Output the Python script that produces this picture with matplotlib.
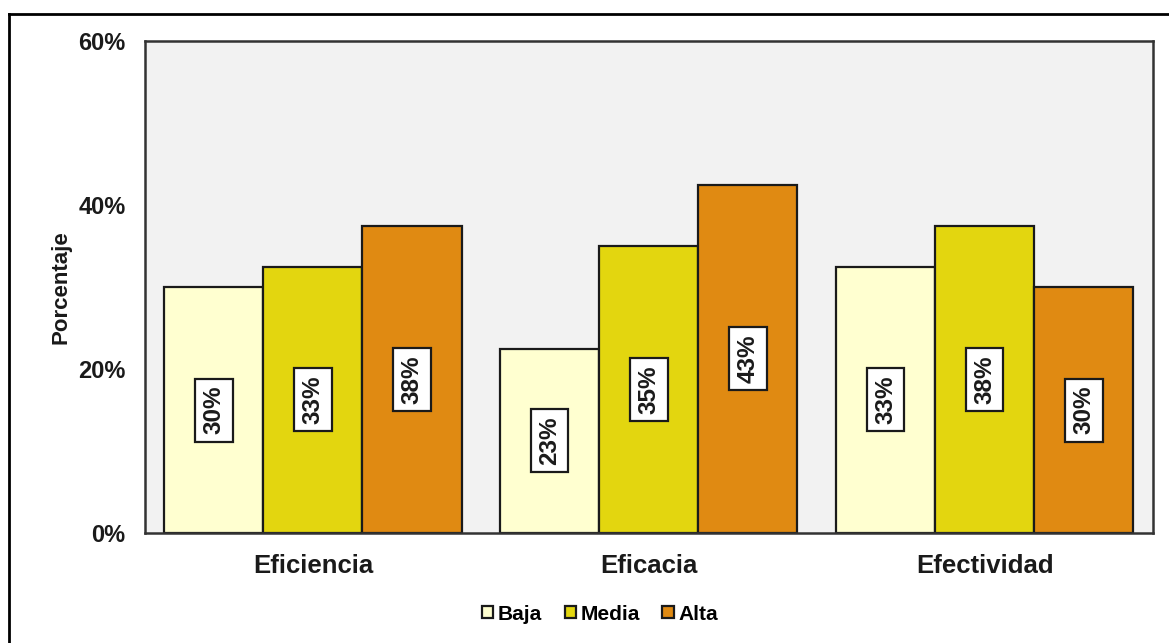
import numpy as np
import matplotlib.pyplot as plt
from matplotlib.lines import Line2D
from decimal import Decimal, ROUND_HALF_UP

plt.rcParams['font.family'] = ['Liberation Sans', 'DejaVu Sans']
plt.rcParams['font.weight'] = 'bold'

categorias = ['Eficiencia', 'Eficacia', 'Efectividad']
niveles = ['Baja', 'Media', 'Alta']
baja = [30.0, 22.5, 32.5]
media = [32.5, 35.0, 37.5]
alta = [37.5, 42.5, 30.0]
colores = ['#FFFFD0', '#E3D60F', '#E08A12']


def etiqueta(v):
    return str(Decimal(str(v)).quantize(Decimal('1'), rounding=ROUND_HALF_UP)) + '%'


fig = plt.figure(figsize=(11.69, 6.43), dpi=100)
ax = fig.add_axes([0.124, 0.171, 0.862, 0.765])
ax.set_facecolor('#F2F2F2')

x = np.arange(len(categorias))
ancho = 0.295
for i, (serie, nombre) in enumerate(zip([baja, media, alta], niveles)):
    pos = x + (i - 1) * ancho
    barras = ax.bar(pos, serie, ancho, color=colores[i], edgecolor='#1a1a1a',
                    linewidth=1.6, label=nombre, zorder=2)
    for b, v in zip(barras, serie):
        ax.text(b.get_x() + b.get_width() / 2, v / 2, etiqueta(v),
                rotation=90, ha='center', va='center', fontsize=17.5,
                fontweight='bold', color='#1a1a1a',
                bbox=dict(boxstyle='square,pad=0.3', fc='white',
                          ec='#1a1a1a', lw=1.6), zorder=3)

ax.set_xlim(-0.5, 2.5)
ax.set_ylim(0, 60)
ax.set_yticks([0, 20, 40, 60])
ax.set_yticklabels(['0%', '20%', '40%', '60%'])
ax.set_xticks(x)
ax.set_xticklabels(categorias)
ax.tick_params(axis='y', length=0, pad=14, labelsize=17, colors='#1a1a1a')
ax.tick_params(axis='x', length=0, pad=15, labelsize=18.5, colors='#1a1a1a')
for lab in ax.get_xticklabels() + ax.get_yticklabels():
    lab.set_fontweight('bold')
for s in ax.spines.values():
    s.set_color('#333333')
    s.set_linewidth(1.8)

ax.set_ylabel('Porcentaje', fontsize=16, fontweight='bold', labelpad=5,
              color='#1a1a1a')

leg = fig.legend(loc='center', bbox_to_anchor=(0.513, 0.045), ncol=3,
                 frameon=False, fontsize=15, handlelength=0.55,
                 handleheight=0.55, handletextpad=0.2, columnspacing=1.1)
for h in leg.legend_handles:
    h.set_linewidth(1.6)
for t in leg.get_texts():
    t.set_fontweight('bold')

# borde exterior del gráfico
fig.add_artist(Line2D([9 / 1169, 9 / 1169], [0, 1 - 14 / 643],
                      transform=fig.transFigure, color='black', lw=2))
fig.add_artist(Line2D([9 / 1169, 1], [1 - 14 / 643, 1 - 14 / 643],
                      transform=fig.transFigure, color='black', lw=2))

fig.savefig('out.png', dpi=100)
